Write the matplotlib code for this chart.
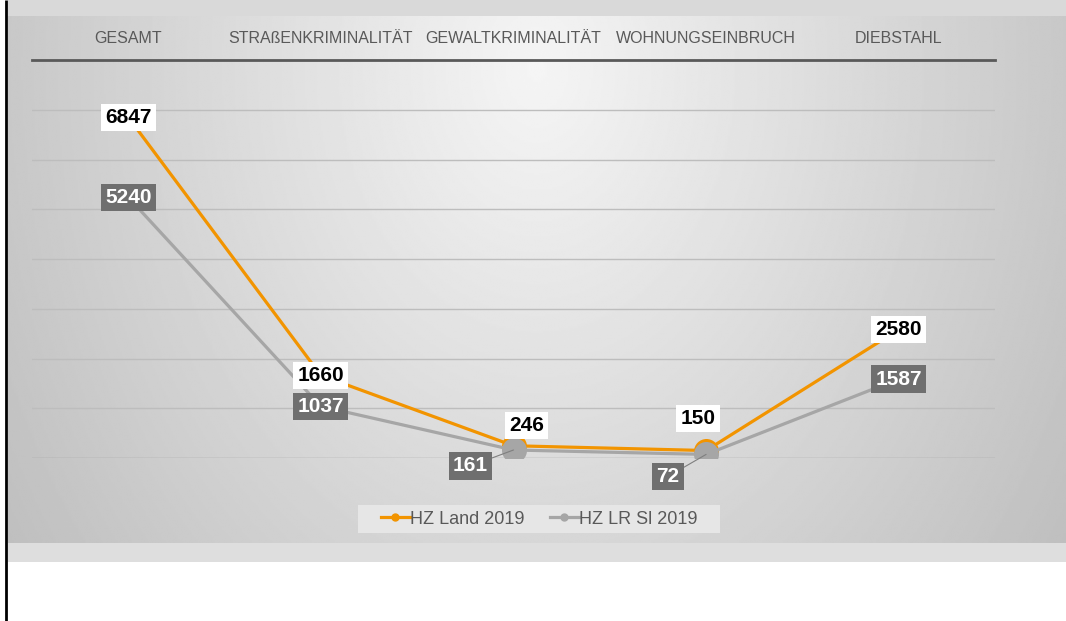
import matplotlib.pyplot as plt
import numpy as np
from matplotlib.lines import Line2D

plt.rcParams['font.family'] = ['Liberation Sans', 'DejaVu Sans']

categories = ['GESAMT', 'STRAßENKRIMINALITÄT', 'GEWALTKRIMINALITÄT',
              'WOHNUNGSEINBRUCH', 'DIEBSTAHL']
hz_land = [6847, 1660, 246, 150, 2580]
hz_lr_sl = [5240, 1037, 161, 72, 1587]
series_names = ['HZ Land 2019', 'HZ LR Sl 2019']

orange = '#f29400'
grey = '#a6a6a6'
box_grey = '#6f6f6f'
text_grey = '#595959'

W, H = 1066, 621
fig = plt.figure(figsize=(W / 100, H / 100), dpi=100)

# background panel (pixel coordinates)
bg = fig.add_axes([0, 0, 1, 1])
bg.axis('off')
bg.add_patch(plt.Rectangle((8, 0), W - 8, 16, color='#d9d9d9', lw=0))
yy, xx = np.mgrid[0:1:300j, 0:1:600j]
r = np.sqrt(((xx - 0.5) / 0.6) ** 2 + ((yy - 0.1) / 1.6) ** 2)
shade = np.clip(0.96 - 0.21 * r, 0, 1)
bg.imshow(shade, cmap='gray', vmin=0, vmax=1, extent=(8, W, 543, 16),
          aspect='auto', interpolation='bilinear')
bg.add_patch(plt.Rectangle((8, 543), W - 8, 19, color='#dedede', lw=0))
# legend backdrop
bg.add_patch(plt.Rectangle((358, 505), 362, 28, color='#e6e6e6', lw=0))
bg.plot([6, 6], [0, H], color='black', lw=2, solid_capstyle='butt')
bg.set_xlim(0, W)
bg.set_ylim(H, 0)

# main chart
ax = fig.add_axes([32 / W, (H - 458) / H, 963 / W, 398 / H])
ax.patch.set_alpha(0)
x = np.arange(len(categories))
ax.set_xlim(-0.5, len(categories) - 0.5)
ax.set_ylim(0, 8000)
for v in range(0, 8000, 1000):
    ax.axhline(v, color='#bdbdbd' if v else '#a0a0a0', lw=1, zorder=1)
for s in ['left', 'right', 'bottom']:
    ax.spines[s].set_visible(False)
ax.spines['top'].set_color(text_grey)
ax.spines['top'].set_linewidth(2)
ax.set_yticks([])
ax.xaxis.tick_top()
ax.set_xticks(x)
ax.set_xticklabels(categories, fontsize=11.5, color=text_grey)
ax.tick_params(axis='x', length=0, pad=10)

ax.plot(x, hz_land, color=orange, lw=2.3, marker='o', ms=18,
        markeredgewidth=0, zorder=3)
ax.plot(x, hz_lr_sl, color=grey, lw=2.3, marker='o', ms=18,
        markeredgewidth=0, zorder=4)

# label offsets in pixels (most labels sit centered on the point)
land_off = [(0, 0), (0, 0), (13, 20), (-8, 32), (0, 0)]
sl_off = [(0, 0), (0, 0), (-43, -16), (-38, -22), (0, 0)]

for i in range(len(categories)):
    ax.annotate(str(hz_land[i]), (x[i], hz_land[i]), xytext=land_off[i],
                textcoords='offset pixels', ha='center', va='center',
                fontsize=15, fontweight='bold', color='black', zorder=6,
                bbox=dict(boxstyle='square,pad=0.2', fc='white', ec='none'))
    arrow = None
    if sl_off[i] != (0, 0):
        arrow = dict(arrowstyle='-', color='#7f7f7f', lw=0.8,
                     shrinkA=0, shrinkB=0)
    ax.annotate(str(hz_lr_sl[i]), (x[i], hz_lr_sl[i]), xytext=sl_off[i],
                textcoords='offset pixels', ha='center', va='center',
                fontsize=15, fontweight='bold', color='white', zorder=5,
                arrowprops=arrow,
                bbox=dict(boxstyle='square,pad=0.2', fc=box_grey, ec='none'))

handles = [Line2D([], [], color=orange, lw=2.3, marker='o', ms=5),
           Line2D([], [], color=grey, lw=2.3, marker='o', ms=5)]
leg = fig.legend(handles, series_names, loc='center',
                 bbox_to_anchor=(539 / W, (H - 519) / H), ncol=2,
                 fontsize=13, frameon=False,
                 handlelength=1.6, handletextpad=0.0, columnspacing=1.4)
for t in leg.get_texts():
    t.set_color(text_grey)

fig.savefig('out.png', dpi=100)
